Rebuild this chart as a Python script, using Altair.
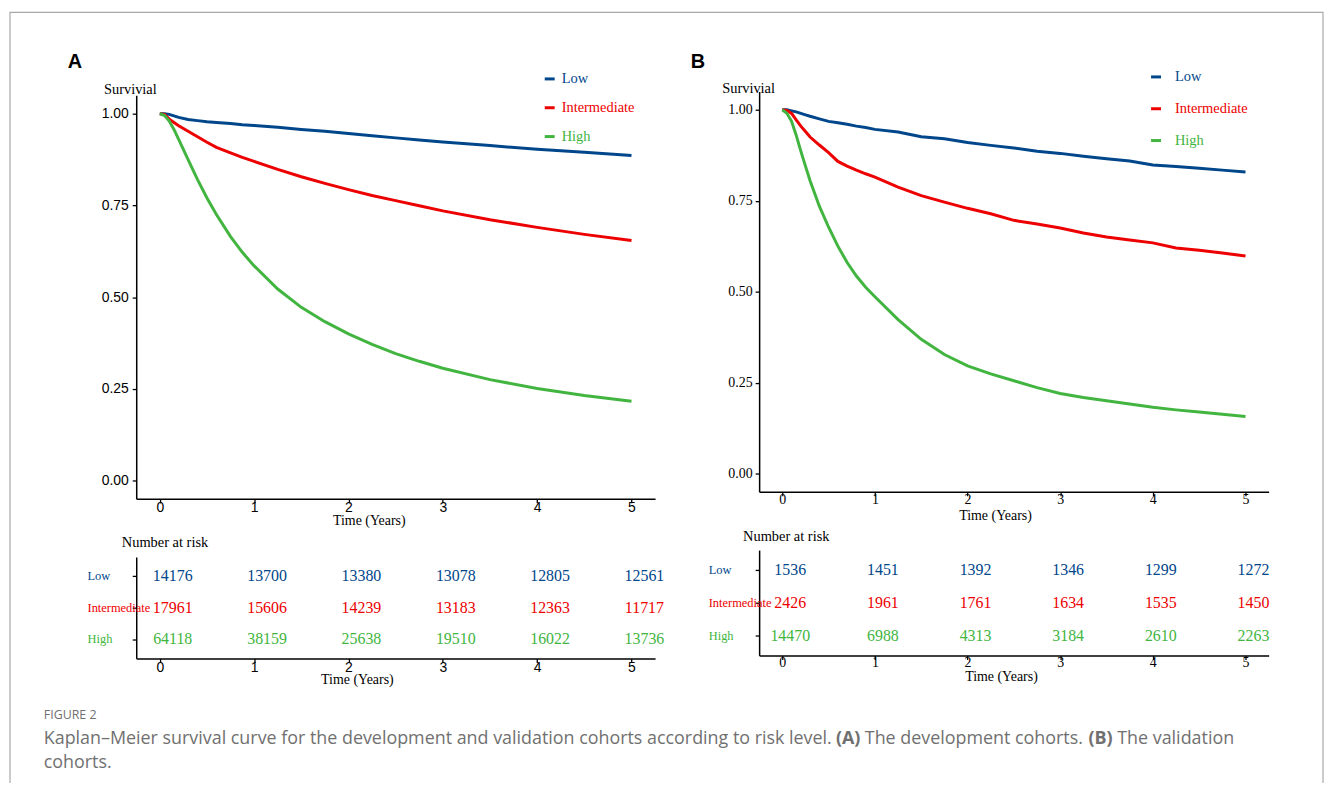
import altair as alt
import pandas as pd

groups = ["Low", "Intermediate", "High"]
colors = ["#00468B", "#ED0000", "#42B540"]

# Panel A (development cohort) survival curves
a_time = [0, 0.05, 0.1, 0.15, 0.2, 0.3, 0.4, 0.5, 0.6, 0.75, 0.875, 1, 1.25, 1.5, 1.75, 2, 2.25, 2.5, 2.75, 3, 3.5, 4, 4.5, 5]
a_low = [1.0, 1.0, 0.998, 0.994, 0.990, 0.984, 0.981, 0.978, 0.976, 0.973, 0.970, 0.968, 0.963, 0.957, 0.952, 0.946, 0.940, 0.934, 0.928, 0.923, 0.913, 0.903, 0.895, 0.886]
a_int = [1.0, 0.998, 0.985, 0.976, 0.967, 0.952, 0.937, 0.922, 0.908, 0.893, 0.881, 0.870, 0.848, 0.828, 0.810, 0.793, 0.777, 0.763, 0.749, 0.735, 0.711, 0.690, 0.671, 0.654]
a_high = [1.0, 0.995, 0.980, 0.957, 0.930, 0.875, 0.820, 0.770, 0.725, 0.665, 0.622, 0.585, 0.522, 0.472, 0.433, 0.400, 0.371, 0.346, 0.325, 0.306, 0.275, 0.251, 0.232, 0.216]

# Panel B (validation cohort) survival curves
b_time = [0, 0.05, 0.1, 0.15, 0.2, 0.25, 0.3, 0.4, 0.5, 0.6, 0.7, 0.8, 0.9, 1, 1.25, 1.5, 1.75, 2, 2.25, 2.5, 2.75, 3, 3.25, 3.5, 3.75, 4, 4.25, 4.5, 4.75, 5]
b_low = [1.0, 1.0, 0.997, 0.994, 0.990, 0.986, 0.982, 0.975, 0.968, 0.964, 0.960, 0.955, 0.951, 0.946, 0.939, 0.926, 0.920, 0.910, 0.902, 0.895, 0.886, 0.880, 0.872, 0.865, 0.859, 0.848, 0.844, 0.839, 0.834, 0.829]
b_int = [1.0, 0.998, 0.990, 0.972, 0.955, 0.940, 0.925, 0.903, 0.882, 0.858, 0.845, 0.834, 0.824, 0.815, 0.787, 0.764, 0.746, 0.729, 0.714, 0.696, 0.686, 0.675, 0.661, 0.650, 0.642, 0.634, 0.620, 0.614, 0.606, 0.598]
b_high = [1.0, 0.990, 0.968, 0.930, 0.886, 0.845, 0.805, 0.735, 0.677, 0.625, 0.580, 0.543, 0.512, 0.486, 0.423, 0.369, 0.327, 0.296, 0.274, 0.255, 0.236, 0.220, 0.209, 0.200, 0.191, 0.182, 0.175, 0.169, 0.163, 0.157]

# Numbers at risk
risk_years = [0, 1, 2, 3, 4, 5]
a_risk_low = [14176, 13700, 13380, 13078, 12805, 12561]
a_risk_int = [17961, 15606, 14239, 13183, 12363, 11717]
a_risk_high = [64118, 38159, 25638, 19510, 16022, 13736]
b_risk_low = [1536, 1451, 1392, 1346, 1299, 1272]
b_risk_int = [2426, 1961, 1761, 1634, 1535, 1450]
b_risk_high = [14470, 6988, 4313, 3184, 2610, 2263]

year_ticks = [0, 1, 2, 3, 4, 5]
surv_ticks = [0, 0.25, 0.5, 0.75, 1.0]

W, H = 1325, 775
SERIF = "Liberation Serif"
SANS = "Liberation Sans"
CAP_FONT = "Open Sans"
CAP_COLOR = "#707070"
CAP_SIZE = 18


def curves_df(t, series):
    rows = []
    for g, vals in zip(groups, series):
        for ti, v in zip(t, vals):
            rows.append({"time": ti, "surv": v, "group": g})
    return pd.DataFrame(rows)


def risk_df(series):
    rows = []
    for g, vals in zip(groups, series):
        for ti, v in zip(risk_years, vals):
            rows.append({"time": ti, "n": v, "group": g})
    return pd.DataFrame(rows)


color = alt.Color("group:N", scale=alt.Scale(domain=groups, range=colors), legend=None)
one = pd.DataFrame({"k": [0]})


def curve_panel(df, xr, yr, font, title_pos, xlab_pad, ylab_pad):
    (ytx, yty), (xtx, xty) = title_pos
    return alt.Chart(df).mark_line(strokeWidth=3).encode(
        x=alt.X("time:Q",
                scale=alt.Scale(domain=[-0.25, 5.25], range=xr, nice=False, zero=False),
                axis=alt.Axis(orient="bottom", offset=yr[0] - H, values=year_ticks, format="d",
                              labelFont=font, labelFontSize=14, labelPadding=xlab_pad,
                              title="Time (Years)", titleFont=SERIF, titleFontSize=14,
                              titleFontWeight="normal", titleX=xtx, titleY=xty,
                              titleAlign="center", titleBaseline="middle")),
        y=alt.Y("surv:Q",
                scale=alt.Scale(domain=[-0.05, 1.05], range=yr, nice=False, zero=False),
                axis=alt.Axis(orient="left", offset=-xr[0], values=surv_ticks, format=".2f",
                              labelFont=font, labelFontSize=14, labelPadding=ylab_pad,
                              title="Survivial", titleFont=SERIF, titleFontSize=14.5,
                              titleFontWeight="normal", titleAngle=0, titleX=ytx, titleY=yty,
                              titleAlign="left", titleBaseline="middle")),
        color=color,
        order="time:Q",
    )


def table_panel(df, xr, yr, font, title_pos, dx, label_x, xlab_pad):
    (ytx, yty), (xtx, xty) = title_pos
    yscale = alt.Scale(type="point", domain=groups, range=yr, padding=0.6)
    nums = alt.Chart(df).mark_text(font=SERIF, fontSize=16, dx=dx, baseline="middle").encode(
        x=alt.X("time:Q",
                scale=alt.Scale(domain=[-0.25, 5.25], range=xr, nice=False, zero=False),
                axis=alt.Axis(orient="bottom", offset=yr[1] - H, values=year_ticks, format="d",
                              labelFont=font, labelFontSize=14, labelPadding=xlab_pad,
                              title="Time (Years)", titleFont=SERIF, titleFontSize=14,
                              titleFontWeight="normal", titleX=xtx, titleY=xty,
                              titleAlign="center", titleBaseline="middle")),
        y=alt.Y("group:N", scale=yscale,
                axis=alt.Axis(orient="left", offset=-xr[0], labels=False,
                              title="Number at risk", titleFont=SERIF, titleFontSize=14.5,
                              titleFontWeight="normal", titleAngle=0, titleX=ytx, titleY=yty,
                              titleAlign="left", titleBaseline="middle")),
        text=alt.Text("n:Q", format="d"),
        color=color,
    )
    labels = alt.Chart(pd.DataFrame({"group": groups})).mark_text(
        font=SERIF, fontSize=12.5, align="left", baseline="middle").encode(
        x=alt.value(label_x),
        y=alt.Y("group:N", scale=yscale, axis=None),
        text="group:N",
        color=color,
    )
    return [nums, labels]


def legend_panel(x0, x1, tx, yr):
    yscale = alt.Scale(type="point", domain=groups, range=yr, padding=0)
    ldf = pd.DataFrame({"group": groups})
    dash = alt.Chart(ldf).mark_rule(strokeWidth=3).encode(
        x=alt.value(x0), x2=alt.value(x1),
        y=alt.Y("group:N", scale=yscale, axis=None), color=color)
    txt = alt.Chart(ldf).mark_text(font=SERIF, fontSize=14.5, align="left", baseline="middle").encode(
        x=alt.value(tx), y=alt.Y("group:N", scale=yscale, axis=None), text="group:N", color=color)
    return [dash, txt]


def label(text, x, y, size, font, col, weight="normal", align="left"):
    return alt.Chart(one).mark_text(font=font, fontSize=size, fontWeight=weight, color=col,
                                    align=align, baseline="middle").encode(
        x=alt.value(x), y=alt.value(y), text=alt.value(text))


layers = []
# Frame
layers.append(alt.Chart(one).mark_rect(fillOpacity=0, stroke="#a8a8a8", strokeWidth=1.2).encode(
    x=alt.value(2), x2=alt.value(1323), y=alt.value(2), y2=alt.value(H + 40)))

# Panel A
layers.append(curve_panel(curves_df(a_time, [a_low, a_int, a_high]), [129, 651], [491.5, 85.5], SANS,
                          ((-33, 80), (363, 21.5)), -2, 4))
layers += table_panel(risk_df([a_risk_low, a_risk_int, a_risk_high]), [129, 651], [550, 652], SANS,
                      ((-15, 535), (351, 21.5)), 13, 80, -2)
layers += legend_panel(540, 550, 557, [69, 127])
layers.append(label("A", 60, 52, 20, SANS, "black", "bold"))

# Panel B
layers.append(curve_panel(curves_df(b_time, [b_low, b_int, b_high]), [755.7, 1268.3], [484.3, 81.7], SERIF,
                          ((-37.7, 79), (993, 23.5)), -3, 3))
layers += table_panel(risk_df([b_risk_low, b_risk_int, b_risk_high]), [755.7, 1268.3], [543, 649], SERIF,
                      ((-16.7, 529), (999, 21)), 8, 705, -3.5)
layers += legend_panel(1150, 1160, 1174, [67, 131])
layers.append(label("B", 687, 52, 20, SANS, "black", "bold"))

# Caption
layers.append(label("FIGURE 2", 36, 709, 12.5, CAP_FONT, CAP_COLOR))
layers.append(label("Kaplan\u2013Meier survival curve for the development and validation cohorts according to risk level.",
                    36, 733, CAP_SIZE, CAP_FONT, CAP_COLOR))
layers.append(label("(A)", 833, 733, CAP_SIZE, CAP_FONT, CAP_COLOR, "bold"))
layers.append(label("The development cohorts.", 862, 733, CAP_SIZE, CAP_FONT, CAP_COLOR))
layers.append(label("(B)", 1087, 733, CAP_SIZE, CAP_FONT, CAP_COLOR, "bold"))
layers.append(label("The validation", 1116, 733, CAP_SIZE, CAP_FONT, CAP_COLOR))
layers.append(label("cohorts.", 36, 757, CAP_SIZE, CAP_FONT, CAP_COLOR))

chart = alt.layer(*layers).resolve_scale(x="independent", y="independent").properties(
    width=W, height=H, padding=0, autosize=alt.AutoSizeParams(type="none"),
    background="white",
).configure_view(stroke=None).configure_axis(
    grid=False, domainColor="black", domainWidth=1.5, tickColor="black", tickWidth=1.3,
    tickSize=4, labelColor="black", titleColor="black",
)

chart.save("out.html", embed_options={"renderer": "svg", "actions": False})
